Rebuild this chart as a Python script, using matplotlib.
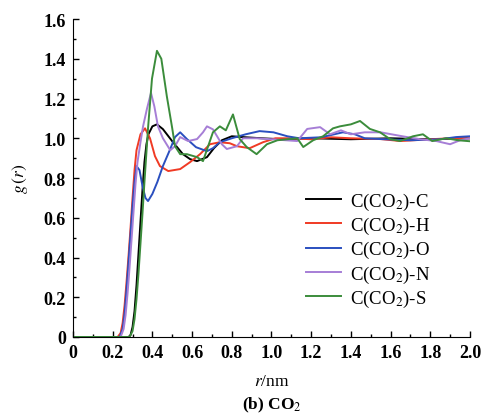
import numpy as np
import matplotlib
matplotlib.use('Agg')
import matplotlib.pyplot as plt
from matplotlib.ticker import MultipleLocator

plt.rcParams['font.family'] = ['Liberation Serif', 'DejaVu Serif']
plt.rcParams['mathtext.fontset'] = 'stix'

# ---------------------------------------------------------------------------
# Data
# ---------------------------------------------------------------------------
r_C = [0.0, 0.28, 0.29, 0.30, 0.31, 0.32, 0.33, 0.34, 0.35, 0.36, 0.37, 0.38,
       0.40, 0.423, 0.453, 0.504, 0.554, 0.59, 0.625, 0.675, 0.71, 0.75,
       0.80, 0.87, 0.95, 1.05, 1.2, 1.4, 1.6, 1.8, 2.0]
g_C = [0.0, 0.0, 0.01, 0.05, 0.13, 0.26, 0.42, 0.58, 0.74, 0.88, 0.97, 1.02,
       1.06, 1.07, 1.046, 0.98, 0.92, 0.895, 0.885, 0.905, 0.95, 0.99,
       1.01, 1.005, 1.0, 0.995, 1.0, 0.995, 1.0, 0.995, 1.0]

r_H = [0.0, 0.225, 0.24, 0.25, 0.26, 0.27, 0.28, 0.29, 0.30, 0.31, 0.32,
       0.34, 0.363, 0.388, 0.413, 0.438, 0.48, 0.54, 0.59, 0.64, 0.69, 0.74,
       0.79, 0.826, 0.89, 0.957, 1.02, 1.1, 1.2, 1.3, 1.4, 1.55, 1.65, 1.8, 1.9, 2.0]
g_H = [0.0, 0.0, 0.02, 0.07, 0.16, 0.28, 0.41, 0.55, 0.70, 0.84, 0.94,
       1.02, 1.05, 1.0, 0.91, 0.86, 0.835, 0.845, 0.88, 0.92, 0.97, 0.98,
       0.975, 0.96, 0.95, 0.98, 1.0, 1.0, 0.995, 1.005, 1.0, 0.996, 0.986, 0.995, 1.0, 1.0]

r_O = [0.0, 0.235, 0.25, 0.26, 0.27, 0.28, 0.29, 0.30, 0.31, 0.32, 0.335,
       0.35, 0.365, 0.378, 0.40, 0.425, 0.453, 0.49, 0.514, 0.54, 0.574,
       0.62, 0.675, 0.705, 0.74, 0.80, 0.87, 0.94, 1.01, 1.08, 1.14, 1.25,
       1.36, 1.42, 1.47, 1.55, 1.7, 1.85, 1.93, 2.0]
g_O = [0.0, 0.0, 0.04, 0.12, 0.24, 0.38, 0.52, 0.66, 0.78, 0.86, 0.84,
       0.76, 0.70, 0.684, 0.72, 0.78, 0.86, 0.946, 1.006, 1.03, 0.996,
       0.955, 0.935, 0.95, 0.98, 1.0, 1.02, 1.036, 1.03, 1.01, 1.0, 1.005,
       1.03, 1.02, 1.0, 0.996, 0.99, 0.995, 1.006, 1.01]

r_N = [0.0, 0.24, 0.255, 0.265, 0.275, 0.285, 0.295, 0.305, 0.315, 0.325,
       0.34, 0.353, 0.373, 0.393, 0.41, 0.428, 0.453, 0.49, 0.514, 0.54,
       0.58, 0.625, 0.655, 0.675, 0.705, 0.75, 0.775, 0.826, 0.857, 0.925,
       1.0, 1.13, 1.18, 1.245, 1.295, 1.35, 1.40, 1.47, 1.55, 1.66, 1.75,
       1.83, 1.90, 1.95, 2.0]
g_N = [0.0, 0.0, 0.04, 0.11, 0.22, 0.35, 0.49, 0.63, 0.77, 0.88,
       0.98, 1.06, 1.15, 1.228, 1.16, 1.06, 1.0, 0.94, 0.96, 1.006,
       0.986, 0.996, 1.03, 1.06, 1.045, 0.97, 0.946, 0.96, 1.0, 1.0,
       0.995, 0.986, 1.047, 1.056, 1.02, 1.04, 1.02, 1.03, 1.03, 1.01, 0.995,
       0.986, 0.97, 0.99, 1.0]

r_S = [0.0, 0.285, 0.30, 0.31, 0.32, 0.33, 0.34, 0.35, 0.36, 0.378, 0.398,
       0.423, 0.445, 0.473, 0.50, 0.514, 0.54, 0.574, 0.625, 0.655, 0.705,
       0.74, 0.77, 0.806, 0.84, 0.875, 0.925, 0.977, 1.03, 1.13, 1.16, 1.21,
       1.26, 1.31, 1.345, 1.40, 1.446, 1.496, 1.547, 1.597, 1.647, 1.713,
       1.763, 1.81, 1.88, 1.94, 2.0]
g_S = [0.0, 0.0, 0.03, 0.09, 0.19, 0.32, 0.47, 0.62, 0.78, 1.05, 1.30,
       1.44, 1.40, 1.21, 1.05, 0.96, 0.92, 0.92, 0.905, 0.885, 1.03,
       1.06, 1.04, 1.12, 0.996, 0.956, 0.92, 0.97, 0.99, 1.0, 0.956, 0.99,
       1.01, 1.05, 1.06, 1.07, 1.087, 1.047, 1.03, 0.996, 0.986, 1.01,
       1.02, 0.986, 1.0, 0.99, 0.985]

series = [
    (r_C, g_C, 'C(CO$_2$)-C', '#000000'),
    (r_H, g_H, 'C(CO$_2$)-H', '#f03a24'),
    (r_O, g_O, 'C(CO$_2$)-O', '#2a4fbf'),
    (r_N, g_N, 'C(CO$_2$)-N', '#a67ed6'),
    (r_S, g_S, 'C(CO$_2$)-S', '#3b8c3b'),
]

# ---------------------------------------------------------------------------
# Plot
# ---------------------------------------------------------------------------
fig = plt.figure(figsize=(4.85, 4.14), dpi=100)
ax = fig.add_axes([0.1505, 0.1836, 0.8185, 0.768])

for r, g, label, color in series:
    ax.plot(r, g, color=color, lw=1.4, label=label)

ax.set_xlim(0, 2.0)
ax.set_ylim(0, 1.6)
ax.set_xticks(np.arange(0, 2.01, 0.2))
ax.set_yticks(np.arange(0, 1.61, 0.2))
ax.xaxis.set_minor_locator(MultipleLocator(0.1))
ax.yaxis.set_minor_locator(MultipleLocator(0.1))
ax.set_xticklabels(['0'] + [f'{v:.1f}' for v in np.arange(0.2, 2.01, 0.2)])
ax.set_yticklabels(['0'] + [f'{v:.1f}' for v in np.arange(0.2, 1.61, 0.2)])

for s in ('top', 'right'):
    ax.spines[s].set_visible(False)
ax.tick_params(which='both', direction='in', width=1.0)
ax.tick_params(which='major', length=4, labelsize=13, pad=5)
ax.tick_params(which='minor', length=2.5)
for lbl in ax.get_xticklabels() + ax.get_yticklabels():
    lbl.set_fontweight('bold')

ax.set_ylabel('$g\\,(r)$', fontsize=12.5, labelpad=10)
fig.text(0.56, 0.077, '$r$/nm', fontsize=12.5, ha='center', va='center')
fig.text(0.56, 0.02, '(b) CO$_2$', fontsize=12.5, ha='center', va='center',
         fontweight='bold')

ax.legend(loc='lower left', bbox_to_anchor=(0.545, 0.035), frameon=False,
          fontsize=13.5, handlelength=1.85, handletextpad=0.5, labelspacing=0.17)

fig.savefig('out.png', dpi=100)
